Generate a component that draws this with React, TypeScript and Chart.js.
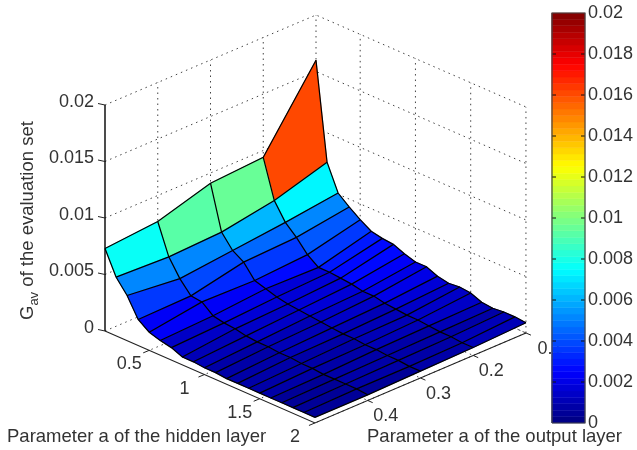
import React, { useEffect, useRef } from "react";
import { Chart, registerables } from "chart.js";

Chart.register(...registerables);

const hiddenParam = [0.1, 0.2, 0.3, 0.4, 0.5, 0.6, 0.7, 0.8, 0.9, 1.0, 1.1, 1.2, 1.3, 1.4, 1.5, 1.6, 1.7, 1.8, 1.9, 2.0];
const outputParam = [0.1, 0.2, 0.3, 0.4, 0.5];
const gavOutput01 = [0.016, 0.0074, 0.0051, 0.0043, 0.0036, 0.003, 0.0028, 0.0027, 0.0023, 0.002, 0.002, 0.0016, 0.0014, 0.0015, 0.0014, 0.001, 0.0009, 0.001, 0.001, 0.0009];
const gavOutput02 = [0.0094, 0.006, 0.0045, 0.0036, 0.0025, 0.0018, 0.0018, 0.0017, 0.0016, 0.0014, 0.0014, 0.0012, 0.0011, 0.001, 0.001, 0.0009, 0.0008, 0.0008, 0.0007, 0.0007];
const gavOutput03 = [0.0091, 0.0052, 0.004, 0.0034, 0.0022, 0.0019, 0.0016, 0.0014, 0.0013, 0.0012, 0.0011, 0.001, 0.0009, 0.0009, 0.0008, 0.0008, 0.0007, 0.0007, 0.0006, 0.0006];
const gavOutput04 = [0.0077, 0.005, 0.0035, 0.0024, 0.0023, 0.0015, 0.0013, 0.0012, 0.001, 0.0009, 0.0009, 0.0008, 0.0008, 0.0007, 0.0007, 0.0006, 0.0006, 0.0006, 0.0006, 0.0005];
const gavOutput05 = [0.0073, 0.0052, 0.004, 0.0023, 0.0016, 0.0013, 0.0011, 0.0007, 0.0007, 0.0006, 0.0006, 0.0005, 0.0005, 0.0005, 0.0005, 0.0005, 0.0005, 0.0005, 0.0005, 0.0005];
const gavSeries = [gavOutput01, gavOutput02, gavOutput03, gavOutput04, gavOutput05];

const zTicks = [0, 0.005, 0.01, 0.015, 0.02];
const zTickLabels = ["0", "0.005", "0.01", "0.015", "0.02"];
const hiddenTicks = [0.5, 1, 1.5, 2];
const hiddenTickLabels = ["0.5", "1", "1.5", "2"];
const outputTicks = [0.4, 0.3, 0.2, 0.1];
const outputTickLabels = ["0.4", "0.3", "0.2", "0.1"];
const barTicks = [0, 0.002, 0.004, 0.006, 0.008, 0.01, 0.012, 0.014, 0.016, 0.018, 0.02];
const barTickLabels = ["0", "0.002", "0.004", "0.006", "0.008", "0.01", "0.012", "0.014", "0.016", "0.018", "0.02"];

const H_MIN = 0.1, H_MAX = 2, O_MIN = 0.1, O_MAX = 0.5, Z_MAX = 0.02, BAR_L = 552, BAR_R = 585;
const px = (h: number, o: number) => 105 + (h - H_MIN) * 110.5 + (O_MAX - o) * 527.5;
const py = (h: number, o: number, z: number) => 331 + (h - H_MIN) * 48.4 - (O_MAX - o) * 225 - z * 11300;
const pt = (h: number, o: number, z: number) => ({ x: px(h, o), y: py(h, o, z) });

function jet(i: number, n = 64) {
  const v = (i + 0.5) / n;
  const c = (d: number) => Math.round(255 * Math.max(0, Math.min(1, 1.5 - Math.abs(4 * v - d))));
  return `rgb(${c(3)},${c(2)},${c(1)})`;
}
const colorFor = (z: number) => jet(Math.min(63, Math.floor((z / Z_MAX) * 64)));

const line = (data: any[], color: string, width: number, dash: number[] = [], yAxisID = "y") => ({
  type: "scatter", data, showLine: true, borderColor: color, borderWidth: width, borderDash: dash,
  pointRadius: 0, tension: 0, fill: false, clip: false, yAxisID,
});

function buildDatasets() {
  const list: any[] = [];
  const dot = [1.5, 4];
  const grid = "#444";
  for (const z of zTicks) {
    list.push(line([pt(H_MIN, O_MAX, z), pt(H_MIN, O_MIN, z), pt(H_MAX, O_MIN, z)], grid, 1, dot));
  }
  for (const o of outputTicks) {
    list.push(line([pt(H_MIN, o, 0), pt(H_MIN, o, Z_MAX)], grid, 1, dot));
    list.push(line([pt(H_MIN, o, 0), pt(H_MAX, o, 0)], grid, 1, dot));
  }
  for (const h of hiddenTicks) {
    list.push(line([pt(h, O_MIN, 0), pt(h, O_MIN, Z_MAX)], grid, 1, dot));
    list.push(line([pt(h, O_MIN, 0), pt(h, O_MAX, 0)], grid, 1, dot));
  }
  // surface facets
  for (let r = 0; r < hiddenParam.length - 1; r++) {
    for (let c = 0; c < outputParam.length - 1; c++) {
      const h0 = hiddenParam[r], h1 = hiddenParam[r + 1], o0 = outputParam[c], o1 = outputParam[c + 1];
      const a = pt(h0, o0, gavSeries[c][r]);
      const b = pt(h0, o1, gavSeries[c + 1][r]);
      const d = pt(h1, o1, gavSeries[c + 1][r + 1]);
      const e = pt(h1, o0, gavSeries[c][r + 1]);
      const col = colorFor(gavSeries[c][r]);
      list.push({ ...line([a, b, d, e, a], col, 0.6), fill: "shape", backgroundColor: col });
    }
  }
  // mesh lines on top of all facets
  hiddenParam.forEach((h, r) => {
    list.push(line(outputParam.map((o, c) => pt(h, o, gavSeries[c][r])), "#000", 1.25));
  });
  outputParam.forEach((o, c) => {
    list.push(line(hiddenParam.map((h, r) => pt(h, o, gavSeries[c][r])), "#000", 1.25));
  });
  // box axes
  list.push(line([pt(H_MIN, O_MAX, Z_MAX), pt(H_MIN, O_MAX, 0)], "#000", 1.4));
  list.push(line([pt(H_MIN, O_MAX, 0), pt(H_MAX, O_MAX, 0), pt(H_MAX, O_MIN, 0)], "#222", 1.2));
  for (const z of zTicks) {
    const p = pt(H_MIN, O_MAX, z);
    list.push(line([{ x: p.x - 7, y: p.y - 1.5 }, p], "#222", 1));
  }
  for (const h of hiddenTicks) {
    const p = pt(h, O_MAX, 0);
    list.push(line([p, { x: p.x - 6, y: p.y + 2.5 }], "#222", 1));
  }
  for (const o of outputTicks) {
    const p = pt(H_MAX, o, 0);
    list.push(line([p, { x: p.x + 5, y: p.y + 2.2 }], "#222", 1));
  }
  // colorbar
  for (let i = 0; i < 64; i++) {
    const lo = (i / 64) * Z_MAX, hi = ((i + 1) / 64) * Z_MAX;
    const col = jet(i);
    list.push({
      ...line([{ x: BAR_L, y: lo }, { x: BAR_R, y: lo }, { x: BAR_R, y: hi }, { x: BAR_L, y: hi }, { x: BAR_L, y: lo }], col, 0.5, [], "y2"),
      fill: "shape", backgroundColor: col,
    });
  }
  for (const t of barTicks.slice(1, -1)) {
    list.push(line([{ x: BAR_L, y: t }, { x: BAR_L + 4, y: t }], "#111", 1, [], "y2"));
    list.push(line([{ x: BAR_R - 4, y: t }, { x: BAR_R, y: t }], "#111", 1, [], "y2"));
  }
  list.push(line([{ x: BAR_L, y: 0 }, { x: BAR_R, y: 0 }, { x: BAR_R, y: Z_MAX }, { x: BAR_L, y: Z_MAX }, { x: BAR_L, y: 0 }], "#444", 1.2, [], "y2"));
  return list.reverse();
}

const FONT = "18px 'Liberation Sans', Arial, sans-serif";
const TITLE_FONT = "18.5px 'Liberation Sans', Arial, sans-serif";
const TEXT = "#333";

const labelsBehind = {
  id: "labelsBehind",
  beforeDatasetsDraw(chart: any) {
    const ctx = chart.ctx;
    ctx.save();
    ctx.font = FONT; ctx.fillStyle = TEXT; ctx.textAlign = "center"; ctx.textBaseline = "middle";
    outputTicks.forEach((o, i) => {
      const shift = o === O_MIN ? 24 : 18;
      ctx.fillText(outputTickLabels[i], px(H_MAX, o) + shift, py(H_MAX, o, 0) + 16);
    });
    ctx.restore();
  },
};

const labelsFront = {
  id: "labelsFront",
  afterDraw(chart: any) {
    const ctx = chart.ctx;
    const y2 = chart.scales.y2;
    ctx.save();
    ctx.font = FONT; ctx.fillStyle = TEXT; ctx.textBaseline = "middle";
    ctx.textAlign = "right";
    zTicks.forEach((z, i) => ctx.fillText(zTickLabels[i], 94, py(H_MIN, O_MAX, z) - 3));
    ctx.textAlign = "center";
    hiddenTicks.forEach((h, i) => ctx.fillText(hiddenTickLabels[i], px(h, O_MAX) - 20, py(h, O_MAX, 0) + 14));
    ctx.textAlign = "left";
    barTicks.forEach((t, i) => ctx.fillText(barTickLabels[i], 588, y2.getPixelForValue(t) + 0.5));
    ctx.font = TITLE_FONT;
    ctx.fillText("Parameter a of the hidden layer", 7, 437);
    ctx.fillText("Parameter a of the output layer", 367, 437);
    ctx.translate(28, 320);
    ctx.rotate(-Math.PI / 2);
    ctx.textAlign = "left";
    ctx.fillText("G", 0, 0);
    const g = ctx.measureText("G").width;
    ctx.font = "13px 'Liberation Sans', Arial, sans-serif";
    ctx.fillText("av", g, 6);
    const av = ctx.measureText("av").width;
    ctx.font = TITLE_FONT;
    ctx.fillText(" of the evaluation set", g + av, 0);
    ctx.restore();
  },
};

export default function App() {
  const ref = useRef<HTMLCanvasElement>(null);
  useEffect(() => {
    const chart = new Chart(ref.current as any, {
      type: "scatter",
      data: { datasets: buildDatasets() },
      options: {
        animation: false,
        responsive: false,
        layout: { padding: { top: 13, bottom: 27, left: 0, right: 0 } },
        plugins: { legend: { display: false }, title: { display: false }, tooltip: { enabled: false } },
        scales: {
          x: { type: "linear", min: 0, max: 637, display: false },
          y: { type: "linear", min: 13, max: 423, reverse: true, display: false },
          y2: { type: "linear", min: 0, max: Z_MAX, display: false },
        },
      },
      plugins: [labelsBehind, labelsFront],
    } as any);
    return () => chart.destroy();
  }, []);
  return (
    <canvas
      ref={ref}
      width={637}
      height={450}
      style={{ position: "fixed", left: 0, top: 0, width: 637, height: 450, display: "block", background: "#fff" }}
    />
  );
}
